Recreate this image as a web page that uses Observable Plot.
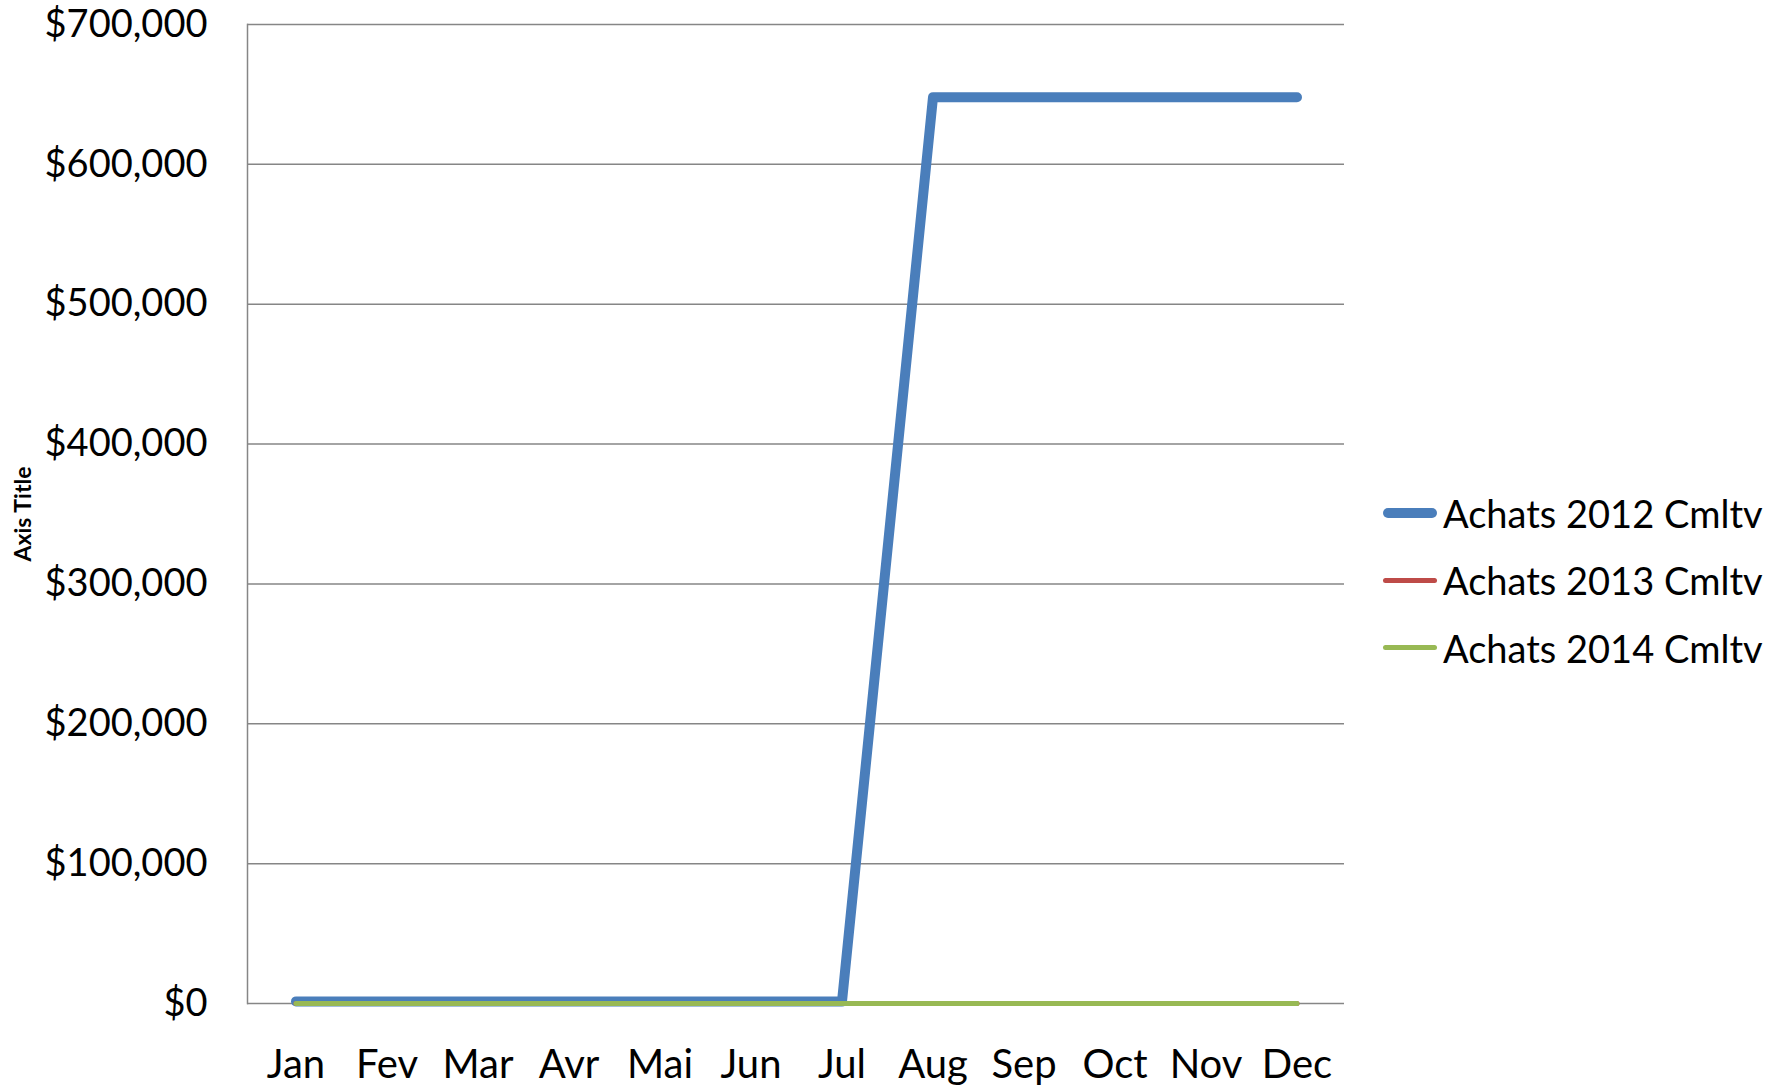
<!DOCTYPE html>
<html>
<head>
<meta charset="utf-8">
<script src="https://cdn.jsdelivr.net/npm/d3@7"></script>
<script src="https://cdn.jsdelivr.net/npm/@observablehq/plot@0.6"></script>
<style>
  html, body { margin: 0; padding: 0; background: #fff; }
  #wrap { position: relative; width: 1791px; height: 1090px; font-family: Lato, "Open Sans", sans-serif; }
  #legend { position: absolute; left: 1383px; top: 479px; font-size: 38px; color: #000; }
  .item { display: flex; align-items: center; height: 67.5px; }
  .sw { width: 54px; margin-right: 6px; border-radius: 6px; }
</style>
</head>
<body>
<div id="wrap"><div id="chart"></div><div id="legend"></div></div>
<script>
const months = ["Jan","Fev","Mar","Avr","Mai","Jun","Jul","Aug","Sep","Oct","Nov","Dec"];
const seriesNames = ["Achats 2012 Cmltv","Achats 2013 Cmltv","Achats 2014 Cmltv"];
const achats2012 = [1500,1500,1500,1500,1500,1500,1500,648000,648000,648000,648000,648000];
const achats2013 = [0,0,0,0,0,0,0,0,0,0,0,0];
const achats2014 = [0,0,0,0,0,0,0,0,0,0,0,0];
const yTicks = [0,100000,200000,300000,400000,500000,600000,700000];
const colors = ["#4A7EBB","#BE4B48","#98B954"];
const widths = [10,5,5];

const allSeries = [achats2012, achats2013, achats2014];
const rows = allSeries.map((vals, s) => months.map((m, i) => ({month: m, value: vals[i], series: seriesNames[s]})));

const fmt = v => "$" + d3.format(",")(v);

const chart = Plot.plot({
  width: 1791,
  height: 1090,
  marginLeft: 247,
  marginRight: 447,
  marginTop: 24,
  marginBottom: 87,
  style: {fontFamily: "Lato, 'Open Sans', sans-serif", background: "#fff", color: "#000"},
  x: {type: "band", domain: months, padding: 0},
  y: {domain: [0, 700000]},
  marks: [
    Plot.gridY(yTicks, {stroke: "#868686", strokeOpacity: 1, strokeWidth: 1.5}),
    Plot.frame({anchor: "left", stroke: "#868686", strokeWidth: 1.5}),
    Plot.axisY({ticks: yTicks, tickFormat: fmt, tickSize: 0, tickPadding: 40, fontSize: 38, label: null}),
    Plot.axisX({tickSize: 0, tickPadding: 46, fontSize: 40, label: null}),
    ...rows.map((r, s) => Plot.line(r, {
      x: "month", y: "value",
      stroke: colors[s], strokeWidth: widths[s],
      strokeLinecap: "round", strokeLinejoin: "round"
    })),
    Plot.text(["Axis Title"], {frameAnchor: "left", textAnchor: "middle", dx: -224, rotate: -90, fontSize: 23, fontWeight: "bold", fill: "#000"})
  ]
});
document.getElementById("chart").appendChild(chart);

const legend = document.getElementById("legend");
seriesNames.forEach((name, s) => {
  const item = document.createElement("div");
  item.className = "item";
  const sw = document.createElement("span");
  sw.className = "sw";
  sw.style.height = widths[s] + "px";
  sw.style.background = colors[s];
  const t = document.createElement("span");
  t.textContent = name;
  item.appendChild(sw);
  item.appendChild(t);
  legend.appendChild(item);
});
</script>
</body>
</html>
